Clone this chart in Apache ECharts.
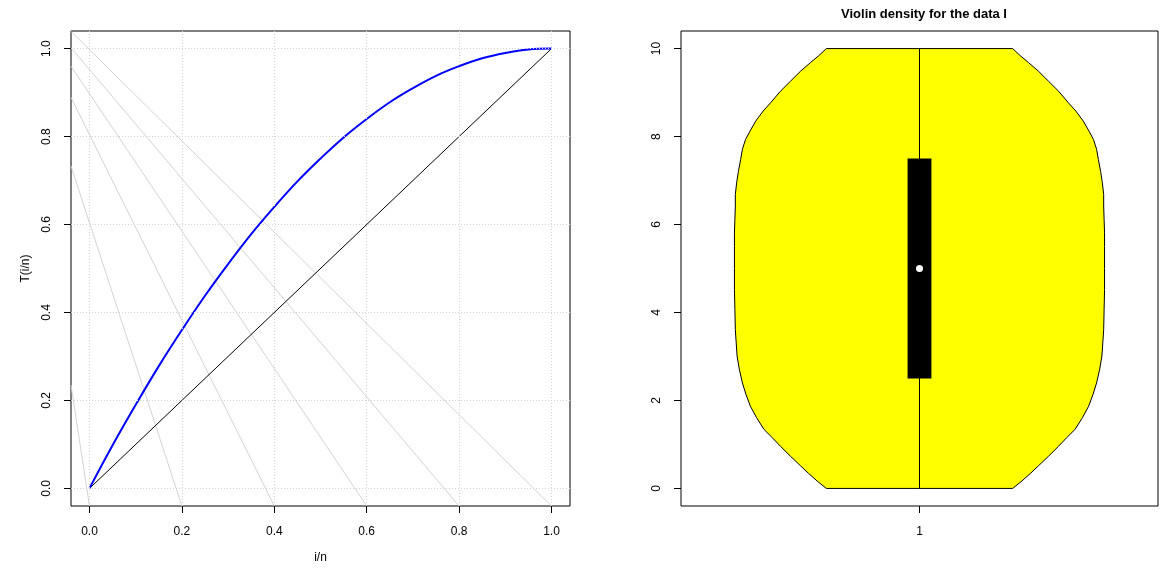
<!DOCTYPE html>
<html><head><meta charset="utf-8">
<script src="https://cdn.jsdelivr.net/npm/echarts@6/dist/echarts.min.js"></script>
<style>html,body{margin:0;padding:0;background:#fff}#c{width:1165px;height:570px}</style>
</head><body><div id="c"></div>
<script>
// ---- data ----
const leftTicks = [0, 0.2, 0.4, 0.6, 0.8, 1.0];
const curveX = [0, 0.05, 0.1, 0.15, 0.2, 0.25, 0.3, 0.35, 0.4, 0.45, 0.5, 0.55, 0.6, 0.65, 0.7, 0.75, 0.8, 0.85, 0.9, 0.95, 1.0];
const curveY = [0, 0.098, 0.19, 0.278, 0.36, 0.438, 0.51, 0.578, 0.64, 0.698, 0.75, 0.798, 0.84, 0.878, 0.91, 0.938, 0.96, 0.978, 0.99, 0.998, 1.0];
const diagX = [0, 1];
const diagY = [0, 1];
const greyStartY = [1.039, 1.002, 0.960, 0.889, 0.733, 0.235];
const greyEndX = [1.0, 0.8, 0.6, 0.4, 0.2, 0.0];
const violinY = [0, 0.17, 0.34, 0.51, 0.73, 0.96, 1.15, 1.34, 1.61, 1.87, 2.14, 2.40, 2.71, 3.01, 3.31, 3.61, 4.07, 4.52, 5.0, 5.5, 5.81, 6.11, 6.42, 6.68, 6.95, 7.21, 7.48, 7.71, 7.93, 8.12, 8.35, 8.58, 8.77, 9.03, 9.26, 9.49, 9.68, 9.84, 10];
const violinHalf = [0.211, 0.232, 0.251, 0.269, 0.292, 0.315, 0.333, 0.352, 0.369, 0.383, 0.393, 0.401, 0.408, 0.413, 0.415, 0.417, 0.418, 0.419, 0.419, 0.419, 0.419, 0.418, 0.417, 0.417, 0.414, 0.410, 0.405, 0.401, 0.394, 0.384, 0.371, 0.354, 0.337, 0.315, 0.292, 0.269, 0.247, 0.228, 0.211];
const boxStats = [0, 2.5, 5, 7.5, 10]; // min, q1, median, q3, max
const violinCenter = [1];
const rightYTicks = [0, 2, 4, 6, 8, 10];
const rightXTicks = [1];

// ---- chart ----
const FONT = 'Liberation Sans, Arial, sans-serif';
const chart = echarts.init(document.getElementById('c'), null, {renderer: 'canvas'});
const X0 = -0.04, X1 = 1.04;
const RX0 = 0.46, RX1 = 1.54, RY0 = -0.4, RY1 = 10.4;
const TICK = 7;
const L = {left: 71, top: 31, width: 499, height: 475};
const R = {left: 681, top: 31, width: 477, height: 475};
const axisCommon = {
  axisLine: {show: false, onZero: false},
  axisTick: {show: false},
  splitLine: {show: false},
};
const hiddenAxis = (gi, min, max) => ({gridIndex: gi, type: 'value', min: min, max: max, show: false,
  axisLine: {show: false, onZero: false}, axisTick: {show: false}, axisLabel: {show: false}, splitLine: {show: false}});
const greySeries = greyStartY.map((y0, i) => ({
  type: 'line', xAxisIndex: 0, yAxisIndex: 0, symbol: 'none', silent: true, animation: false,
  data: [[X0, y0], [greyEndX[i], X0]],
  lineStyle: {color: '#d3d3d3', width: 1}, z: 2
}));
// tick marks: thin strips of grid just outside each plot box, marks placed by the strip's axis scale
function tickStrip(axisIdx, vals, dir) {
  return {
    type: 'line', xAxisIndex: axisIdx, yAxisIndex: axisIdx, data: [], silent: true, z: 10,
    markLine: {
      silent: true, symbol: 'none', animation: false, label: {show: false},
      lineStyle: {color: '#000', type: 'solid', width: 1},
      data: vals.map(v => dir === 'x' ? {xAxis: v} : {yAxis: v})
    }
  };
}
const boxHW = 0.027;
const lbl = {fontFamily: FONT, fontSize: 12, color: '#000'};
chart.setOption({
  backgroundColor: '#fff',
  animation: false,
  title: {
    text: 'Violin density for the data I', left: 919, top: 3, textAlign: 'center',
    textStyle: {fontFamily: FONT, fontSize: 13, fontWeight: 'bold', color: '#000'}
  },
  grid: [
    Object.assign({show: true, borderColor: '#000', borderWidth: 1, backgroundColor: 'transparent', containLabel: false}, L),
    Object.assign({show: true, borderColor: '#000', borderWidth: 1, backgroundColor: 'transparent', containLabel: false}, R),
    // tick strips
    {left: L.left, top: L.top + L.height, width: L.width, height: TICK, show: false, containLabel: false},
    {left: L.left - TICK, top: L.top, width: TICK, height: L.height, show: false, containLabel: false},
    {left: R.left, top: R.top + R.height, width: R.width, height: TICK, show: false, containLabel: false},
    {left: R.left - TICK, top: R.top, width: TICK, height: R.height, show: false, containLabel: false}
  ],
  xAxis: [
    Object.assign({}, axisCommon, {
      gridIndex: 0, type: 'value', min: X0, max: X1,
      name: 'i/n', nameLocation: 'middle', nameGap: 46, nameTextStyle: lbl,
      axisLabel: Object.assign({customValues: leftTicks, formatter: v => v.toFixed(1), margin: 20}, lbl)
    }),
    Object.assign({}, axisCommon, {
      gridIndex: 1, type: 'value', min: RX0, max: RX1,
      axisLabel: Object.assign({customValues: rightXTicks, formatter: v => String(Math.round(v)), margin: 20}, lbl)
    }),
    hiddenAxis(2, X0, X1),
    hiddenAxis(3, 0, 1),
    hiddenAxis(4, RX0, RX1),
    hiddenAxis(5, 0, 1)
  ],
  yAxis: [
    Object.assign({}, axisCommon, {
      gridIndex: 0, type: 'value', min: X0, max: X1,
      name: 'T(i/n)', nameLocation: 'middle', nameGap: 39, nameTextStyle: lbl,
      axisLabel: Object.assign({customValues: leftTicks, formatter: v => v.toFixed(1), rotate: 90, margin: 18}, lbl)
    }),
    Object.assign({}, axisCommon, {
      gridIndex: 1, type: 'value', min: RY0, max: RY1,
      axisLabel: Object.assign({customValues: rightYTicks, formatter: v => String(v), rotate: 90, margin: 18}, lbl)
    }),
    hiddenAxis(2, 0, 1),
    hiddenAxis(3, X0, X1),
    hiddenAxis(4, 0, 1),
    hiddenAxis(5, RY0, RY1)
  ],
  series: [
    {
      type: 'line', xAxisIndex: 0, yAxisIndex: 0, data: [], silent: true, z: 1,
      markLine: {
        silent: true, symbol: 'none', animation: false, label: {show: false},
        lineStyle: {color: '#d3d3d3', type: [1, 2], width: 1},
        data: leftTicks.map(v => ({xAxis: v})).concat(leftTicks.map(v => ({yAxis: v})))
      }
    },
    ...greySeries,
    {
      type: 'line', xAxisIndex: 0, yAxisIndex: 0, symbol: 'none', silent: true, z: 3,
      data: diagX.map((x, i) => [x, diagY[i]]),
      lineStyle: {color: '#000', width: 1}
    },
    {
      type: 'line', xAxisIndex: 0, yAxisIndex: 0, symbol: 'none', silent: true, z: 4, smooth: 0.4,
      data: curveX.map((x, i) => [x, curveY[i]]),
      lineStyle: {color: '#0000ff', width: 2}
    },
    tickStrip(2, leftTicks, 'x'),
    tickStrip(3, leftTicks, 'y'),
    tickStrip(4, rightXTicks, 'x'),
    tickStrip(5, rightYTicks, 'y'),
    {
      type: 'custom', xAxisIndex: 1, yAxisIndex: 1, silent: true, z: 2,
      data: [[violinCenter[0], boxStats[2]]],
      renderItem: (params, api) => {
        const c = violinCenter[0];
        const pts = [];
        for (let i = 0; i < violinY.length; i++) pts.push(api.coord([c + violinHalf[i], violinY[i]]));
        for (let i = violinY.length - 1; i >= 0; i--) pts.push(api.coord([c - violinHalf[i], violinY[i]]));
        return {type: 'polygon', shape: {points: pts}, style: {fill: '#ffff00', stroke: '#000', lineWidth: 1}};
      }
    },
    {
      type: 'line', xAxisIndex: 1, yAxisIndex: 1, symbol: 'none', silent: true, z: 3,
      data: [[violinCenter[0], boxStats[0]], [violinCenter[0], boxStats[4]]],
      lineStyle: {color: '#000', width: 1}
    },
    {
      type: 'custom', xAxisIndex: 1, yAxisIndex: 1, silent: true, z: 4,
      data: [[violinCenter[0], boxStats[2]]],
      renderItem: (params, api) => {
        const c = violinCenter[0];
        const a = api.coord([c - boxHW, boxStats[3]]);
        const b = api.coord([c + boxHW, boxStats[1]]);
        return {type: 'rect', shape: {x: a[0], y: a[1], width: b[0] - a[0], height: b[1] - a[1]}, style: {fill: '#000'}};
      }
    },
    {
      type: 'scatter', xAxisIndex: 1, yAxisIndex: 1, silent: true, z: 5,
      data: [[violinCenter[0], boxStats[2]]], symbol: 'circle', symbolSize: 7,
      itemStyle: {color: '#fff', opacity: 1}
    }
  ]
});
</script>
</body></html>
